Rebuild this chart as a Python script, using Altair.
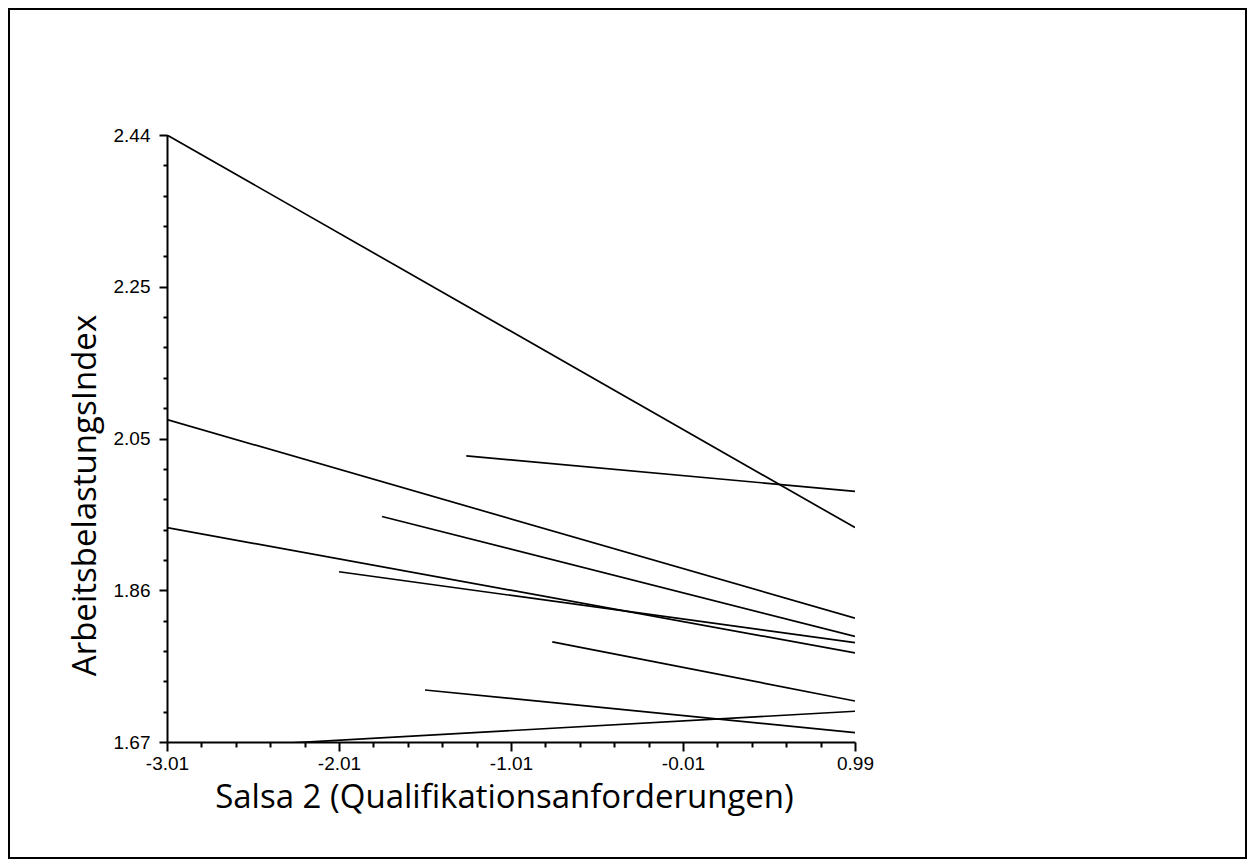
import altair as alt
import pandas as pd

# ---- data (one straight segment per line) ----
line_ids = ["L1", "L2", "L3", "L4", "L5", "L6", "L7", "L8", "L9"]
x_start = [-3.01, -3.01, -1.27, -1.76, -3.01, -2.01, -0.77, -1.51, -3.01]
y_start = [2.440, 2.079, 2.033, 1.956, 1.942, 1.886, 1.797, 1.736, 1.660]
x_end = [0.99, 0.99, 0.99, 0.99, 0.99, 0.99, 0.99, 0.99, 0.99]
y_end = [1.942, 1.827, 1.988, 1.804, 1.783, 1.796, 1.722, 1.682, 1.709]

x_tick_labels = ["-3.01", "-2.01", "-1.01", "-0.01", "0.99"]
y_tick_labels = ["1.67", "1.86", "2.05", "2.25", "2.44"]

x_min, x_max = -3.01, 0.99
y_min, y_max = 1.67, 2.44
x_step = (x_max - x_min) / 20
y_step = (y_max - y_min) / 20

rows = []
for i, lid in enumerate(line_ids):
    rows.append({"id": lid, "x": x_start[i], "y": y_start[i], "o": 0})
    rows.append({"id": lid, "x": x_end[i], "y": y_end[i], "o": 1})
df = pd.DataFrame(rows)

x_ticks = [x_min + x_step * i for i in range(21)]
y_ticks = [y_min + y_step * i for i in range(21)]

def js_arr(lst):
    return "[" + ",".join("'" + s + "'" for s in lst) + "]"

x_idx = f"round((datum.value - ({x_min})) / {x_step})"
y_idx = f"round((datum.value - ({y_min})) / {y_step})"

x_axis = alt.Axis(
    values=x_ticks,
    labelExpr=f"{x_idx} % 5 == 0 ? {js_arr(x_tick_labels)}[{x_idx} / 5] : ''",
    tickSize={"condition": {"test": f"{x_idx} % 5 == 0", "value": 9}, "value": 5},
    tickWidth=2,
    domainWidth=2,
    labelPadding=3,
    labelFont="Liberation Sans",
    labelFontSize=19,
    labelColor="black",
    labelFlush=False,
    labelOverlap=False,
    title="Salsa 2 (Qualifikationsanforderungen)",
    titleFont="Open Sans",
    titleFontSize=33,
    titleFontWeight="normal",
    titleColor="black",
    titleAnchor="middle",
    titleAlign="center",
    titleBaseline="middle",
    titleX=337,
    titleY=55,
)

y_axis = alt.Axis(
    values=y_ticks,
    labelExpr=f"{y_idx} % 5 == 0 ? {js_arr(y_tick_labels)}[{y_idx} / 5] : ''",
    tickSize={"condition": {"test": f"{y_idx} % 5 == 0", "value": 8}, "value": 4},
    tickWidth=2,
    domainWidth=2,
    labelPadding=9,
    labelFont="Liberation Sans",
    labelFontSize=19,
    labelColor="black",
    labelFlush=False,
    labelOverlap=False,
    title="ArbeitsbelastungsIndex",
    titleFont="Open Sans",
    titleFontSize=33,
    titleFontWeight="normal",
    titleColor="black",
    titleAngle=-90,
    titleAlign="center",
    titleBaseline="middle",
    titleX=-82,
    titleY=360,
)

lines = alt.Chart(df).mark_line(color="black", strokeWidth=1.7, clip=True).encode(
    x=alt.X("x:Q", scale=alt.Scale(domain=[x_min, x_max], nice=False, zero=False), axis=x_axis),
    y=alt.Y("y:Q", scale=alt.Scale(domain=[y_min, y_max], nice=False, zero=False), axis=y_axis),
    detail="id:N",
    order="o:Q",
)

frame = alt.Chart(pd.DataFrame({"a": [0]})).mark_rect(
    fillOpacity=0, stroke="black", strokeWidth=2
).encode(
    x=alt.value(-158), x2=alt.value(1079), y=alt.value(-126), y2=alt.value(723)
)

chart = alt.layer(frame, lines).properties(
    width=688,
    height=607,
    padding={"left": 159, "top": 127, "right": 392, "bottom": 117},
    autosize=alt.AutoSizeParams(type="none"),
    background="white",
).configure_view(stroke="transparent").configure_axis(
    grid=False,
    tickColor="black",
    domainColor="black",
)

chart.save("out.html", embed_options={"renderer": "svg", "actions": False})
